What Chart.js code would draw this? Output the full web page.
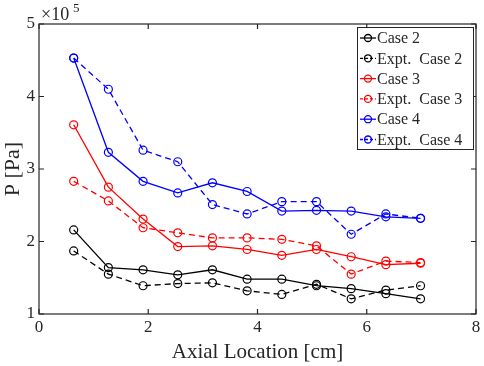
<!DOCTYPE html>
<html>
<head>
<meta charset="utf-8">
<script src="https://cdn.jsdelivr.net/npm/chart.js@4.4.1/dist/chart.umd.min.js"></script>
<style>
  html, body { margin: 0; padding: 0; background: #fff; }
  #wrap { width: 484px; height: 366px; }
</style>
</head>
<body>
<div id="wrap"><canvas id="pressure"></canvas></div>
<script>
// axial positions [cm]
var xLoc = [0.635, 1.27, 1.905, 2.54, 3.175, 3.81, 4.445, 5.08, 5.715, 6.35, 6.985];

// pressure values in units of 1e5 Pa
var case2     = [2.16, 1.64, 1.61, 1.54, 1.61, 1.48, 1.48, 1.39, 1.35, 1.28, 1.21];
var exptCase2 = [1.87, 1.55, 1.39, 1.42, 1.43, 1.32, 1.27, 1.41, 1.21, 1.33, 1.39];
var case3     = [3.61, 2.75, 2.31, 1.93, 1.94, 1.89, 1.81, 1.89, 1.79, 1.68, 1.70];
var exptCase3 = [2.83, 2.56, 2.19, 2.12, 2.05, 2.05, 2.03, 1.94, 1.55, 1.73, 1.71];
var case4     = [4.53, 3.23, 2.83, 2.67, 2.81, 2.69, 2.42, 2.43, 2.42, 2.34, 2.32];
var exptCase4 = [4.53, 4.10, 3.26, 3.10, 2.51, 2.38, 2.55, 2.55, 2.10, 2.38, 2.32];

var seriesNames = ["Case 2", "Expt.  Case 2", "Case 3", "Expt.  Case 3", "Case 4", "Expt.  Case 4"];
var seriesVals = [case2, exptCase2, case3, exptCase3, case4, exptCase4];
var seriesColors = ["#000000", "#000000", "#ff0000", "#ff0000", "#0000ff", "#0000ff"];

var xTicks = [0, 2, 4, 6, 8];
var yTicks = [1, 2, 3, 4, 5];

var serif = "'Liberation Serif', 'DejaVu Serif', serif";

function toPoints(vals) {
  return vals.map(function (v, i) { return { x: xLoc[i], y: v }; });
}

var datasets = seriesNames.map(function (name, i) {
  var dashed = name.indexOf("Expt") === 0;
  return {
    label: name,
    data: toPoints(seriesVals[i]),
    borderColor: seriesColors[i],
    backgroundColor: "rgba(0,0,0,0)",
    borderWidth: 1.3,
    borderDash: dashed ? [6, 4] : [],
    pointRadius: 4,
    pointBorderWidth: 1.2,
    pointBackgroundColor: "rgba(0,0,0,0)",
    pointBorderColor: seriesColors[i],
    tension: 0
  };
});

// MATLAB style box, inward ticks, exponent and legend
var matlabAxes = {
  id: "matlabAxes",
  afterDraw: function (chart) {
    var c = chart.ctx, a = chart.chartArea;
    var sx = chart.scales.x, sy = chart.scales.y;
    var tl = 5;
    c.save();
    c.strokeStyle = "#262626";
    c.lineWidth = 1.2;
    c.strokeRect(a.left, a.top, a.right - a.left, a.bottom - a.top);
    c.beginPath();
    xTicks.forEach(function (t) {
      var px = sx.getPixelForValue(t);
      c.moveTo(px, a.bottom); c.lineTo(px, a.bottom - tl);
      c.moveTo(px, a.top); c.lineTo(px, a.top + tl);
    });
    yTicks.forEach(function (t) {
      var py = sy.getPixelForValue(t);
      c.moveTo(a.left, py); c.lineTo(a.left + tl, py);
      c.moveTo(a.right, py); c.lineTo(a.right - tl, py);
    });
    c.stroke();

    // exponent label
    c.fillStyle = "#262626";
    c.textBaseline = "alphabetic";
    c.textAlign = "left";
    c.font = "18px " + serif;
    c.fillText("\u00d710", a.left + 2, a.top - 4);
    c.font = "13px " + serif;
    c.fillText("5", a.left + 34, a.top - 12);

    // legend
    var lx = 357, ly = 27, lw = 116, lh = 122;
    c.fillStyle = "#fff";
    c.fillRect(lx, ly, lw, lh);
    c.strokeStyle = "#262626";
    c.lineWidth = 1;
    c.strokeRect(lx + 0.5, ly + 0.5, lw, lh);
    c.font = "16px " + serif;
    c.textBaseline = "middle";
    chart.data.datasets.forEach(function (ds, i) {
      var yy = ly + 11 + i * 20.3;
      c.strokeStyle = ds.borderColor;
      c.lineWidth = 1.3;
      c.setLineDash(ds.borderDash.length ? [3, 2] : []);
      c.beginPath();
      c.moveTo(lx + 3, yy); c.lineTo(lx + 19, yy);
      c.stroke();
      c.setLineDash([]);
      c.beginPath();
      c.arc(lx + 11, yy, 3.5, 0, Math.PI * 2);
      c.stroke();
      c.fillStyle = "#262626";
      c.fillText(ds.label, lx + 20, yy + 1);
    });
    c.restore();
  }
};

new Chart(document.getElementById("pressure"), {
  type: "line",
  data: { datasets: datasets },
  options: {
    responsive: true,
    maintainAspectRatio: false,
    animation: false,
    layout: { padding: { left: 0, right: 8, top: 24, bottom: 0 } },
    plugins: { legend: { display: false }, tooltip: { enabled: false } },
    scales: {
      x: {
        type: "linear",
        min: 0, max: 8,
        afterBuildTicks: function (s) { s.ticks = xTicks.map(function (v) { return { value: v }; }); },
        afterFit: function (s) { s.height = 52; },
        grid: { display: false, drawTicks: false },
        border: { display: false },
        ticks: { color: "#262626", font: { family: serif, size: 17 }, padding: 3, maxRotation: 0 },
        title: { display: true, text: "Axial Location [cm]", color: "#262626", font: { family: serif, size: 21 }, padding: { top: 0, bottom: 1 } }
      },
      y: {
        min: 1, max: 5,
        afterBuildTicks: function (s) { s.ticks = yTicks.map(function (v) { return { value: v }; }); },
        afterFit: function (s) { s.width = 39; },
        grid: { display: false, drawTicks: false },
        border: { display: false },
        ticks: { color: "#262626", font: { family: serif, size: 17 }, padding: 4 },
        title: { display: true, text: "P [Pa]", color: "#262626", font: { family: serif, size: 22 }, padding: { top: 0, bottom: 0 } }
      }
    }
  },
  plugins: [matlabAxes]
});
</script>
</body>
</html>
